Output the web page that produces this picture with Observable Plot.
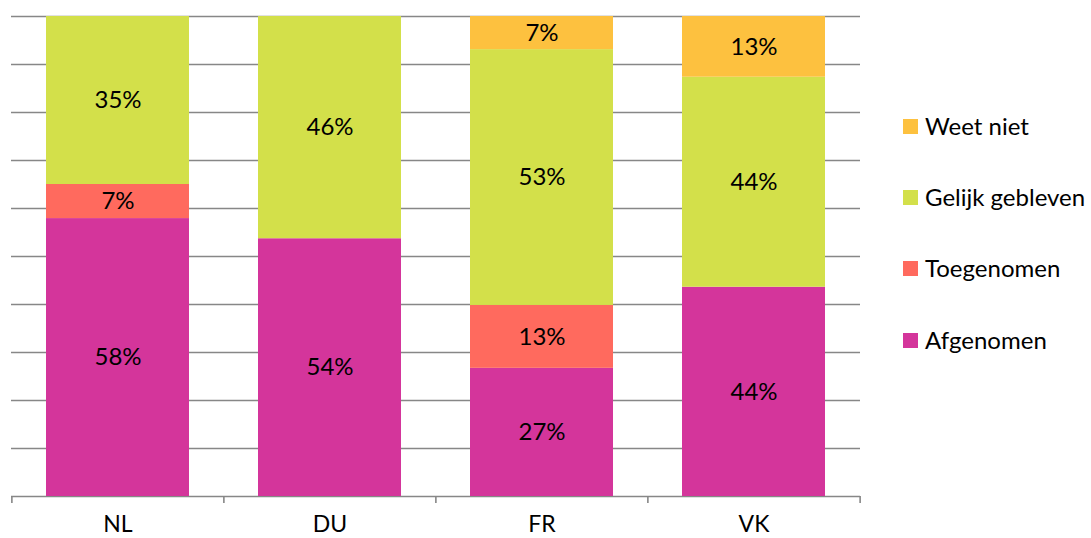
<!DOCTYPE html>
<html><head><meta charset="utf-8">
<script src="https://cdn.jsdelivr.net/npm/d3@7"></script>
<script src="https://cdn.jsdelivr.net/npm/@observablehq/plot@0.6"></script>
<style>
body{margin:0;background:#fff;font-family:Lato,"Open Sans",sans-serif;}
#wrap{position:relative;width:1091px;height:538px;overflow:hidden;}
.item{position:absolute;left:903px;display:flex;align-items:center;white-space:nowrap;font-size:24px;color:#000;line-height:1;}
.sw{width:15px;height:15px;margin-right:7px;flex:none;}
</style></head><body><div id="wrap"></div>
<script>
const categories = ["NL", "DU", "FR", "VK"];
const series = ["Afgenomen", "Toegenomen", "Gelijk gebleven", "Weet niet"];
const colors = ["#D4359B", "#FF6A5E", "#D3E04A", "#FDC13F"];
const afgenomen = [57.9, 53.7, 26.7, 43.6];
const toegenomen = [7.1, 0, 13.1, 0];
const gelijkGebleven = [35.0, 46.3, 53.3, 43.75];
const weetNiet = [0, 0, 6.9, 12.65];
const gridTicks = [0, 10, 20, 30, 40, 50, 60, 70, 80, 90, 100];
const legendOrder = ["Weet niet", "Gelijk gebleven", "Toegenomen", "Afgenomen"];

const valuesBySeries = [afgenomen, toegenomen, gelijkGebleven, weetNiet];
const rows = [];
series.forEach((s, si) => categories.forEach((c, ci) => {
  const v = valuesBySeries[si][ci];
  if (v > 0) rows.push({cat: c, series: s, value: v});
}));

const W = 1091, H = 538, mL = 11, mR = 231, mT = 16, mB = 42;
const step = (W - mL - mR) / categories.length;
const gray = "#878787";

const chart = Plot.plot({
  width: W, height: H,
  marginLeft: mL, marginRight: mR, marginTop: mT, marginBottom: mB,
  x: {domain: categories, paddingInner: 0.324, paddingOuter: 0.162, label: null},
  y: {domain: [0, 100], axis: null},
  color: {domain: series, range: colors},
  style: {fontFamily: "Lato, 'Open Sans', sans-serif", fontSize: "24px", background: "white", color: "black"},
  marks: [
    Plot.ruleY(gridTicks, {y: d => d, stroke: gray, strokeWidth: 1.6}),
    Plot.barY(rows, {x: "cat", y: "value", fill: "series", z: "series", order: series}),
    Plot.text(rows, Plot.stackY({x: "cat", y: "value", z: "series", order: series,
      text: d => Math.round(d.value) + "%", fill: "black", fontSize: 24})),
    Plot.ruleX(categories, {x: d => d, y1: 0, y2: 0, dx: -step / 2, insetBottom: -7, stroke: gray, strokeWidth: 1.6}),
    Plot.ruleX([categories[categories.length - 1]], {x: d => d, y1: 0, y2: 0, dx: step / 2, insetBottom: -7, stroke: gray, strokeWidth: 1.6}),
    Plot.axisX({tickSize: 0, tickPadding: 19, fontSize: 23, label: null})
  ]
});
const wrap = document.getElementById("wrap");
wrap.appendChild(chart);

const legendY = [126, 197, 268, 340];
legendOrder.forEach((s, i) => {
  const item = document.createElement("div");
  item.className = "item";
  item.style.top = (legendY[i] - 14) + "px";
  item.style.height = "28px";
  const sw = document.createElement("span");
  sw.className = "sw";
  sw.style.background = colors[series.indexOf(s)];
  const t = document.createElement("span");
  t.textContent = s;
  item.appendChild(sw); item.appendChild(t);
  wrap.appendChild(item);
});
</script>
</body></html>
